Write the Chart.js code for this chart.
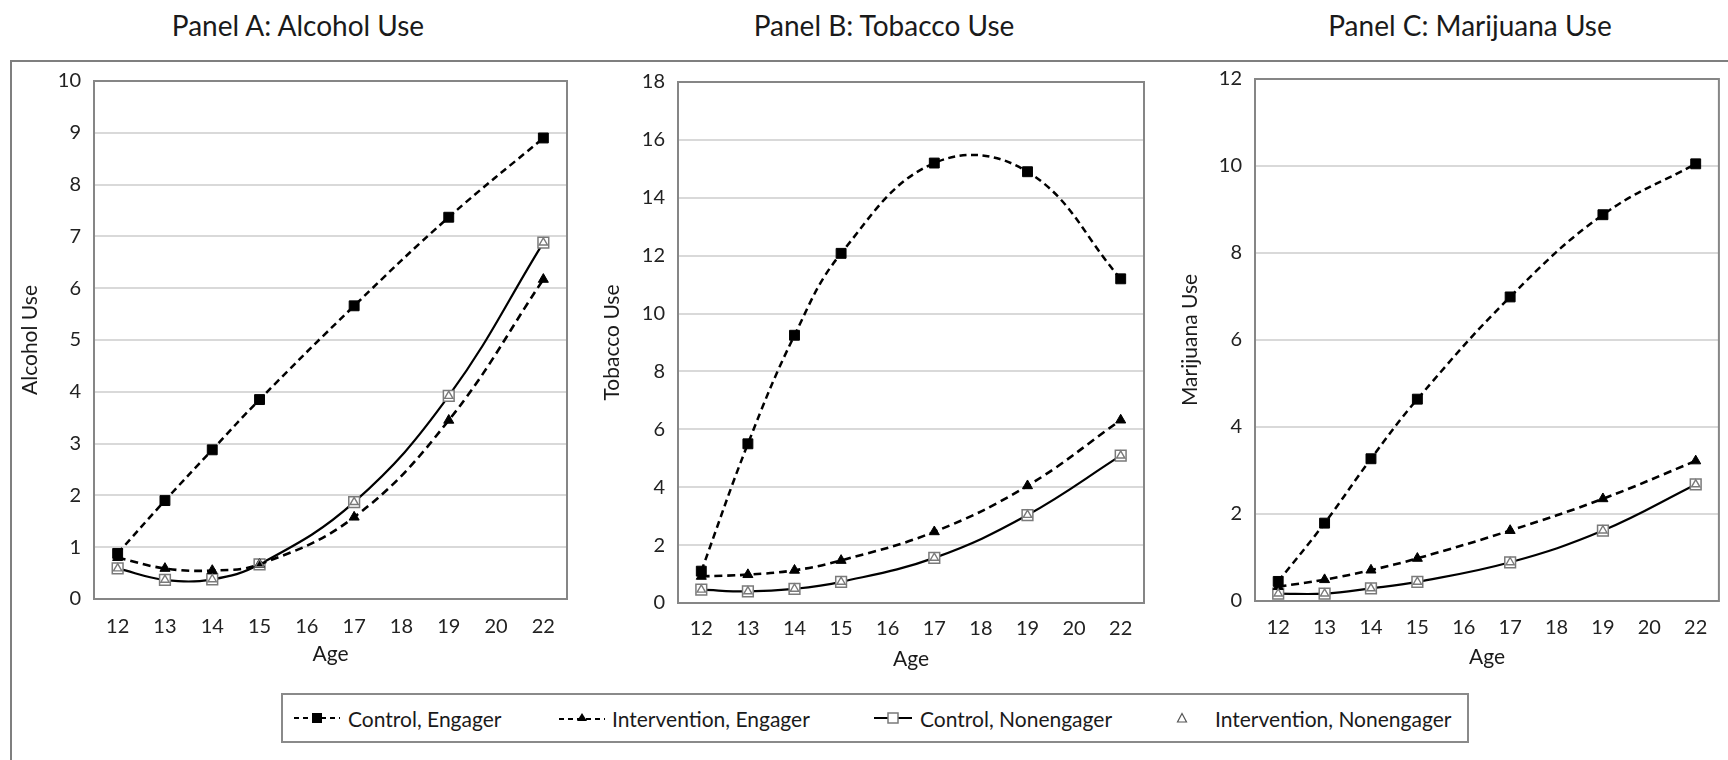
<!DOCTYPE html>
<html>
<head>
<meta charset="utf-8">
<title>Substance use by age</title>
<script src="https://cdn.jsdelivr.net/npm/chart.js@4.4.0/dist/chart.umd.min.js"></script>
<style>
  body { margin: 0; background: #fff; font-family: Lato, "Noto Sans", sans-serif; color: #1a1a1a; }
  #page { position: relative; width: 1728px; height: 760px; overflow: hidden; }
  .panel-title { position: absolute; top: 6px; font-size: 28px; line-height: 38px; transform: translateX(-50%); white-space: nowrap; }
  #frame { position: absolute; left: 10px; top: 60px; right: -10px; bottom: -10px; border-left: 2px solid #7f7f7f; border-top: 2px solid #7f7f7f; }
  canvas { position: absolute; }
  #legend { position: absolute; left: 281px; top: 693px; width: 1184px; height: 46px; border: 2px solid #8a8a8a; background: #fff; }
  .item { position: absolute; top: 0; height: 46px; display: flex; align-items: center; font-size: 21px; white-space: nowrap; }
</style>
</head>
<body>
<div id="page">
  <div id="frame"></div>
  <div class="panel-title" style="left:298px">Panel A: Alcohol Use</div>
  <div class="panel-title" style="left:884px">Panel B: Tobacco Use</div>
  <div class="panel-title" style="left:1470px">Panel C: Marijuana Use</div>
  <canvas id="alcohol"></canvas>
  <canvas id="tobacco"></canvas>
  <canvas id="marijuana"></canvas>
  <div id="legend"></div>
</div>
<script>
// age categories on the x axis (no measurement at 16, 18, 20)
const ages = ['12', '13', '14', '15', '16', '17', '18', '19', '20', '22'];
const seriesNames = ['Control, Engager', 'Intervention, Engager', 'Control, Nonengager', 'Intervention, Nonengager'];

// Panel A: alcohol
const alcoholControlEngager      = [0.88, 1.90, 2.88, 3.85, null, 5.66, null, 7.37, null, 8.90];
const alcoholInterventionEngager = [0.80, 0.59, 0.55, 0.67, null, 1.58, null, 3.45, null, 6.17];
const alcoholControlNon          = [0.59, 0.37, 0.38, 0.67, null, 1.87, null, 3.92, null, 6.88];
const alcoholInterventionNon     = [0.59, 0.37, 0.38, 0.67, null, 1.87, null, 3.92, null, 6.88];
const alcoholYMax = 10, alcoholYStep = 1;

// Panel B: tobacco
const tobaccoControlEngager      = [1.10, 5.50, 9.25, 12.08, null, 15.20, null, 14.90, null, 11.20];
const tobaccoInterventionEngager = [0.92, 0.98, 1.13, 1.47, null, 2.46, null, 4.05, null, 6.32];
const tobaccoControlNon          = [0.46, 0.40, 0.49, 0.73, null, 1.56, null, 3.04, null, 5.09];
const tobaccoInterventionNon     = [0.46, 0.40, 0.49, 0.73, null, 1.56, null, 3.04, null, 5.09];
const tobaccoYMax = 18, tobaccoYStep = 2;

// Panel C: marijuana
const marijuanaControlEngager      = [0.45, 1.79, 3.27, 4.64, null, 6.99, null, 8.88, null, 10.05];
const marijuanaInterventionEngager = [0.33, 0.49, 0.71, 0.98, null, 1.62, null, 2.35, null, 3.22];
const marijuanaControlNon          = [0.17, 0.17, 0.29, 0.44, null, 0.89, null, 1.62, null, 2.68];
const marijuanaInterventionNon     = [0.17, 0.17, 0.29, 0.44, null, 0.89, null, 1.62, null, 2.68];
const marijuanaYMax = 12, marijuanaYStep = 2;

Chart.defaults.font.family = 'Lato, "Noto Sans", sans-serif';
Chart.defaults.color = '#1a1a1a';

const GREY = '#7a7a7a';

// grey box round the plot area
const plotFrame = {
  id: 'plotFrame',
  beforeDatasetsDraw(chart) {
    const {ctx, chartArea: a} = chart;
    ctx.save();
    ctx.strokeStyle = '#868686';
    ctx.lineWidth = 2;
    ctx.strokeRect(a.left, a.top, a.right - a.left, a.bottom - a.top);
    ctx.restore();
  }
};

const makeChart = (id, box, yTitle, yMax, yStep, ctrlEng, intEng, ctrlNon, intNon) => {
  const canvas = document.getElementById(id);
  canvas.width = box.w;
  canvas.height = box.h;
  canvas.style.left = box.left + 'px';
  canvas.style.top = box.top + 'px';

  return new Chart(canvas, {
    type: 'line',
    data: {
      labels: ages,
      datasets: [{
        label: seriesNames[3],
        data: intNon,
        showLine: false,
        pointStyle: 'triangle',
        pointRadius: 4.8,
        pointBackgroundColor: 'rgba(255,255,255,0)',
        pointBorderColor: GREY,
        pointBorderWidth: 1.4,
        order: 0
      }, {
        label: seriesNames[0],
        data: ctrlEng,
        borderColor: '#000',
        borderWidth: 2.5,
        borderDash: [7, 4.5],
        pointStyle: 'rect',
        pointRadius: 7,
        pointBackgroundColor: '#000',
        pointBorderColor: '#000',
        pointBorderWidth: 1,
        order: 1
      }, {
        label: seriesNames[1],
        data: intEng,
        borderColor: '#000',
        borderWidth: 2.6,
        borderDash: [8, 5],
        pointStyle: 'triangle',
        pointRadius: 5.8,
        pointBackgroundColor: '#000',
        pointBorderColor: '#000',
        pointBorderWidth: 1,
        order: 2
      }, {
        label: seriesNames[2],
        data: ctrlNon,
        borderColor: '#000',
        borderWidth: 2.2,
        pointStyle: 'rect',
        pointRadius: 7.6,
        pointBackgroundColor: '#fff',
        pointBorderColor: GREY,
        pointBorderWidth: 1.5,
        order: 3
      }]
    },
    options: {
      responsive: false,
      devicePixelRatio: 1,
      animation: false,
      events: [],
      spanGaps: true,
      elements: { line: { tension: 0.4, fill: false } },
      layout: { padding: { top: 0, right: box.padRight, left: 0, bottom: 0 } },
      plugins: { legend: { display: false }, tooltip: { enabled: false } },
      scales: {
        x: {
          offset: true,
          grid: { display: false, drawTicks: false },
          border: { display: false },
          ticks: { autoSkip: false, maxRotation: 0, padding: box.xTickPad, font: { size: 20 }, color: '#222' },
          title: { display: true, text: 'Age', font: { size: 21 }, color: '#1a1a1a', padding: { top: 0, bottom: box.xTitlePad } },
          afterFit: (s) => { s.height = box.xH; }
        },
        y: {
          min: 0,
          max: yMax,
          grid: { color: '#d9d9d9', lineWidth: 2, drawTicks: false },
          border: { display: false },
          ticks: { stepSize: yStep, padding: 13, font: { size: 20 }, color: '#222' },
          title: { display: true, text: yTitle, font: { size: 21 }, color: '#1a1a1a', padding: { top: box.yTitlePad, bottom: 0 } },
          afterFit: (s) => { s.width = box.yW; }
        }
      }
    },
    plugins: [plotFrame]
  });
};

// the y axis keeps 25px above the plot for its top label, so canvases start 25px higher
makeChart('alcohol',
  { left: 12, top: 56, w: 570, h: 626, yW: 82, xH: 83, padRight: 15, xTickPad: 16, xTitlePad: 15.5, yTitlePad: 5.5 },
  'Alcohol Use', alcoholYMax, alcoholYStep,
  alcoholControlEngager, alcoholInterventionEngager, alcoholControlNon, alcoholInterventionNon);

makeChart('tobacco',
  { left: 592, top: 57, w: 566, h: 625, yW: 86, xH: 79, padRight: 14, xTickPad: 13.3, xTitlePad: 10.4, yTitlePad: 7.5 },
  'Tobacco Use', tobaccoYMax, tobaccoYStep,
  tobaccoControlEngager, tobaccoInterventionEngager, tobaccoControlNon, tobaccoInterventionNon);

makeChart('marijuana',
  { left: 1168, top: 54, w: 560, h: 628, yW: 87, xH: 81, padRight: 6, xTickPad: 14.3, xTitlePad: 12.4, yTitlePad: 9.4 },
  'Marijuana Use', marijuanaYMax, marijuanaYStep,
  marijuanaControlEngager, marijuanaInterventionEngager, marijuanaControlNon, marijuanaInterventionNon);

// shared legend under the three panels
const legendSymbols = [
  '<svg width="46" height="16"><line x1="0" y1="8" x2="46" y2="8" stroke="#000" stroke-width="2.2" stroke-dasharray="5,4"/><rect x="18" y="3" width="10" height="10" fill="#000"/></svg>',
  '<svg width="46" height="16"><line x1="0" y1="9" x2="46" y2="9" stroke="#000" stroke-width="2.2" stroke-dasharray="5,4"/><polygon points="23,3 28,11 18,11" fill="#000"/></svg>',
  '<svg width="38" height="16"><line x1="0" y1="8" x2="38" y2="8" stroke="#000" stroke-width="2"/><rect x="14" y="3" width="10" height="10" fill="#fff" stroke="' + GREY + '" stroke-width="1.5"/></svg>',
  '<svg width="12" height="16"><polygon points="6,3.5 10.5,12 1.5,12" fill="none" stroke="#555" stroke-width="1.2"/></svg>'
];
const legendLeft = [11, 276, 591, 893];
const legendGap = [8, 7, 8, 27];

const legend = document.getElementById('legend');
seriesNames.forEach((name, i) => {
  const item = document.createElement('div');
  item.className = 'item';
  item.style.left = legendLeft[i] + 'px';
  item.innerHTML = legendSymbols[i] + '<span style="margin-left:' + legendGap[i] + 'px">' + name + '</span>';
  legend.appendChild(item);
});
</script>
</body>
</html>
